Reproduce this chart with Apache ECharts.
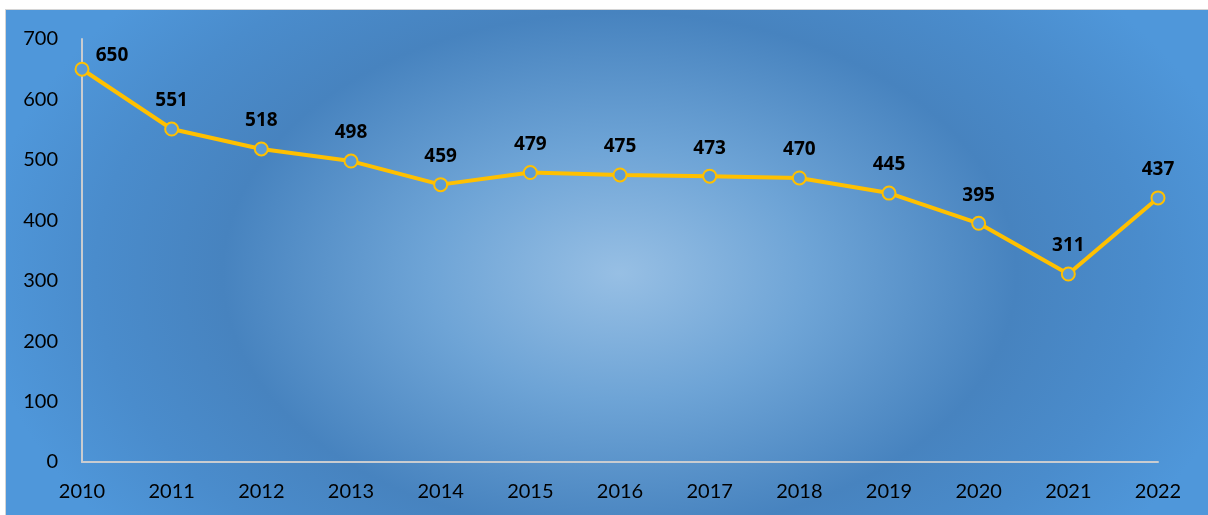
<!DOCTYPE html>
<html>
<head>
<meta charset="utf-8">
<script src="https://cdn.jsdelivr.net/npm/echarts@6/dist/echarts.min.js"></script>
<style>
  html, body { margin: 0; padding: 0; background: #fff; }
  #chart {
    position: absolute; left: 5px; top: 9px; width: 1203px; height: 506px;
    border-left: 1px solid #d4d4d4; border-top: 1px solid #d4d4d4;
    background: radial-gradient(ellipse 640px 420px at 51% 52%, #97bfe4 0%, #6ea4d6 30%, #4783bf 62%, #4a8ccc 82%, #4f97da 100%);
  }
</style>
</head>
<body>
<div id="chart"></div>
<script>
// 年份与数值
var years = ['2010', '2011', '2012', '2013', '2014', '2015', '2016', '2017', '2018', '2019', '2020', '2021', '2022'];
var values = [650, 551, 518, 498, 459, 479, 475, 473, 470, 445, 395, 311, 437];
var yTicks = [0, 100, 200, 300, 400, 500, 600, 700];

var chart = echarts.init(document.getElementById('chart'));

var seriesData = values.map(function (v, i) {
  var item = { value: v };
  if (i === 0) {
    item.label = { offset: [30, 14] };
  }
  return item;
});

var option = {
  backgroundColor: 'transparent',
  textStyle: { fontFamily: 'Lato, "Open Sans", sans-serif' },
  grid: { left: 76, right: 51, top: 29, bottom: 54, containLabel: false },
  xAxis: {
    type: 'category',
    data: years,
    boundaryGap: false,
    axisLine: { lineStyle: { color: '#c9ccd0', width: 2 } },
    axisTick: { show: false },
    axisLabel: { color: '#000', fontSize: 20, margin: 20 }
  },
  yAxis: {
    type: 'value',
    min: yTicks[0],
    max: yTicks[yTicks.length - 1],
    interval: 100,
    axisLine: { show: true, lineStyle: { color: '#c9ccd0', width: 2 } },
    axisTick: { show: false },
    splitLine: { show: false },
    axisLabel: { color: '#000', fontSize: 20, margin: 24 }
  },
  series: [{
    type: 'line',
    data: seriesData,
    symbol: 'circle',
    symbolSize: 13,
    itemStyle: { color: '#5b9bd5', borderColor: '#ffc000', borderWidth: 2 },
    lineStyle: { color: '#ffc000', width: 4 },
    label: {
      show: true,
      position: 'top',
      distance: 11,
      color: '#000',
      fontSize: 19,
      fontWeight: 'bold',
      fontFamily: '"Open Sans", Lato, sans-serif'
    },
    emphasis: { disabled: true },
    animation: false
  }]
};
chart.setOption(option);

window.onresize = function () {
  chart.resize();
};
</script>
</body>
</html>
